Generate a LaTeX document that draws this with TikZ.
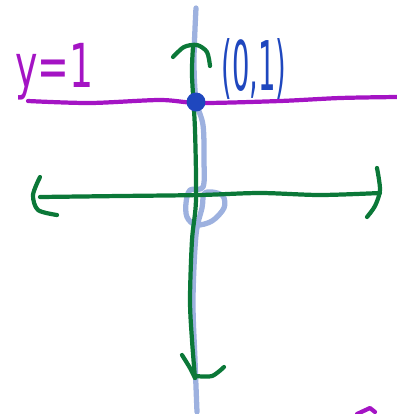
\documentclass[tikz,border=0pt]{standalone}
\usepackage{fontspec}
\setsansfont{DejaVu Sans}
\usetikzlibrary{positioning}
\definecolor{axisblue}{HTML}{9DB1DF}
\definecolor{pengreen}{HTML}{0B7838}
\definecolor{penpurple}{HTML}{A414C4}
\definecolor{penblue}{HTML}{1F47BE}
\tikzset{
  ink/.style={line width=2.4pt, line cap=round, line join=round},
  label/.style={font=\sffamily\fontsize{30}{30}\selectfont, inner sep=0pt}
}
\begin{document}
\begin{tikzpicture}[x=0.02cm, y=-0.02cm]
  \useasboundingbox (0,0) rectangle (397,414);
  % light blue y-axis with its loop
  \draw[ink, axisblue, line width=3pt] plot[smooth, tension=0.55] coordinates {
    (196,8) (194,60) (196,100) (203,125) (204,160) (203,187)
    (190,190) (186,203) (187,217) (196,225) (212,221) (224,208) (223,196) (212,192) (204,194)
    (202,208) (196,235) (193,300) (195,360) (197,412)};
  % purple line y=1
  \coordinate (pl) at (28,101);
  \coordinate (pr) at (397,97);
  \draw[ink, penpurple] plot[smooth, tension=0.5] coordinates {
    (28,101) (90,103) (160,100) (200,103) (280,101) (340,98) (397,97)};
  \node[label, penpurple, anchor=south west] (yeq) at (15,100) {\scalebox{0.72}[1.15]{y=1}};
  % green vertical axis
  \coordinate (vtop) at (193,47);
  \coordinate (vbot) at (195,378);
  \draw[ink, pengreen] plot[smooth, tension=0.5] coordinates {
    (193,47) (192,75) (195,130) (196,200) (192,240) (190,300) (192,340) (195,378)};
  \draw[ink, pengreen] plot[smooth] coordinates {(173,57) (184,47) (197,45) (207,52) (210,66)};
  \draw[ink, pengreen] plot[smooth] coordinates {(182,355) (190,368) (195,378)};
  \draw[ink, pengreen] plot[smooth] coordinates {(195,376) (212,376) (224,367)};
  % green horizontal axis
  \coordinate (hl) at (40,197);
  \coordinate (hr) at (380,193);
  \draw[ink, pengreen] plot[smooth, tension=0.5] coordinates {
    (40,197) (120,196) (200,195) (260,193) (320,195) (380,193)};
  \draw[ink, pengreen] plot[smooth] coordinates {(40,177) (33,195) (38,210) (57,215)};
  \draw[ink, pengreen] plot[smooth] coordinates {(377,168) (380,190) (375,206) (367,217)};
  % point (0,1)
  \node[circle, fill=penblue, inner sep=0pt, minimum size=0.38cm] (pt) at (196,102) {};
  \node[label, penblue, anchor=south west] (ptlab) at (221,100) {\scalebox{0.52}[1.3]{(0,1)}};
  % stray purple stroke
  \draw[ink, penpurple] (357,414) -- (370,408) -- (375,412);
\end{tikzpicture}
\end{document}
